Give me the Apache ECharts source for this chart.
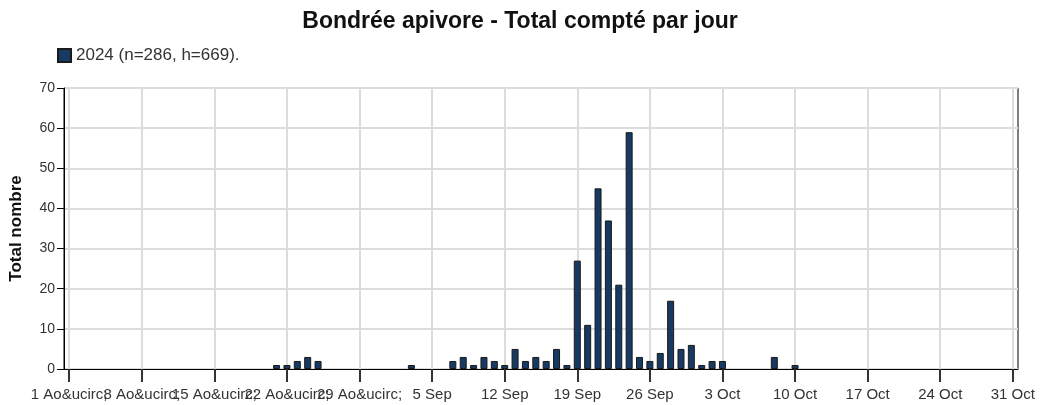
<!DOCTYPE html>
<html>
<head>
<meta charset="utf-8">
<script src="https://cdn.jsdelivr.net/npm/echarts@6/dist/echarts.min.js"></script>
<style>
  html, body { margin: 0; padding: 0; background: #fff; }
  #main { width: 1040px; height: 405px; }
</style>
</head>
<body>
<div id="main"></div>
<script>
// jours du 1 août au 31 octobre 2024
const months = [['Ao&ucirc;', 31], ['Sep', 30], ['Oct', 31]];
// jours avec observations et totaux
const obsDays = ['21 Ao&ucirc;', '22 Ao&ucirc;', '23 Ao&ucirc;', '24 Ao&ucirc;', '25 Ao&ucirc;',
  '3 Sep', '7 Sep', '8 Sep', '9 Sep', '10 Sep', '11 Sep', '12 Sep', '13 Sep', '14 Sep',
  '15 Sep', '16 Sep', '17 Sep', '18 Sep', '19 Sep', '20 Sep', '21 Sep', '22 Sep',
  '23 Sep', '24 Sep', '25 Sep', '26 Sep', '27 Sep', '28 Sep', '29 Sep', '30 Sep',
  '1 Oct', '2 Oct', '3 Oct', '8 Oct', '10 Oct'];
const obsCounts = [1, 1, 2, 3, 2,
  1, 2, 3, 1, 3, 2, 1, 5, 2,
  3, 2, 5, 1, 27, 11, 45, 37,
  21, 59, 3, 2, 4, 17, 5, 6,
  1, 2, 2, 3, 1];
const tickLabels = ['1 Ao&ucirc;', '8 Ao&ucirc;', '15 Ao&ucirc;', '22 Ao&ucirc;', '29 Ao&ucirc;',
  '5 Sep', '12 Sep', '19 Sep', '26 Sep', '3 Oct', '10 Oct', '17 Oct', '24 Oct', '31 Oct'];

const categories = [];
months.forEach(function (m) {
  for (let d = 1; d <= m[1]; d++) categories.push(d + ' ' + m[0]);
});
// pas de barre les jours sans observation
const values = categories.map(function (c) {
  const i = obsDays.indexOf(c);
  return i >= 0 ? obsCounts[i] : null;
});

var myChart = echarts.init(document.getElementById('main'));
const font = 'Liberation Sans, Arial, sans-serif';
const everyWeek = function (i) { return i % 7 === 0; };
// label vide à l'index 5 : sinon echarts masque le 8 août (chevauchement avec le 1er)
const weekPlusDummy = function (i) { return i % 7 === 0 || i === 5; };

let option = {
  animation: false,
  textStyle: { fontFamily: font },
  title: {
    text: 'Bondrée apivore - Total compté par jour',
    left: 'center',
    top: 5,
    textStyle: { fontSize: 23, fontWeight: 'bold', color: '#111', fontFamily: font }
  },
  legend: {
    left: 52,
    top: 42,
    itemWidth: 13,
    itemHeight: 13,
    itemGap: 6,
    textStyle: { fontSize: 17, color: '#333', fontFamily: font },
    data: [{ name: '2024 (n=286, h=669).', icon: 'rect' }]
  },
  grid: {
    left: 60, right: 22, top: 88, bottom: 36,
    show: true, borderColor: '#000', borderWidth: 1
  },
  xAxis: {
    type: 'category',
    data: categories,
    boundaryGap: true,
    axisLine: { lineStyle: { color: '#000', width: 1 } },
    axisTick: { show: true, interval: everyWeek, alignWithLabel: true, length: 13, lineStyle: { color: '#333', width: 2 } },
    axisLabel: {
      interval: weekPlusDummy, margin: 18, fontSize: 15, color: '#333', fontFamily: font,
      showMinLabel: true, hideOverlap: false,
      formatter: function (v, i) { return i % 7 === 0 ? tickLabels[i / 7] : ''; }
    },
    splitLine: { show: true, interval: everyWeek, alignWithLabel: true, lineStyle: { color: '#dcdcdc', width: 2 } }
  },
  yAxis: {
    type: 'value',
    min: 0, max: 70, interval: 10,
    name: 'Total nombre',
    nameLocation: 'middle',
    nameGap: 39,
    nameTextStyle: { fontSize: 17, fontWeight: 'bold', color: '#111', fontFamily: font },
    axisLine: { show: true, lineStyle: { color: '#000' } },
    axisTick: { show: true, length: 7, lineStyle: { color: '#000' } },
    axisLabel: { fontSize: 14, color: '#333', margin: 9, fontFamily: font },
    splitLine: { show: true, lineStyle: { color: '#dcdcdc', width: 2 } }
  },
  series: [
    {
      name: '2024 (n=286, h=669).',
      type: 'bar',
      data: values,
      barWidth: 7,
      itemStyle: { color: '#163a62', borderColor: '#1a1a1a', borderWidth: 1 }
    }
  ]
};

option && myChart.setOption(option);
</script>
</body>
</html>
